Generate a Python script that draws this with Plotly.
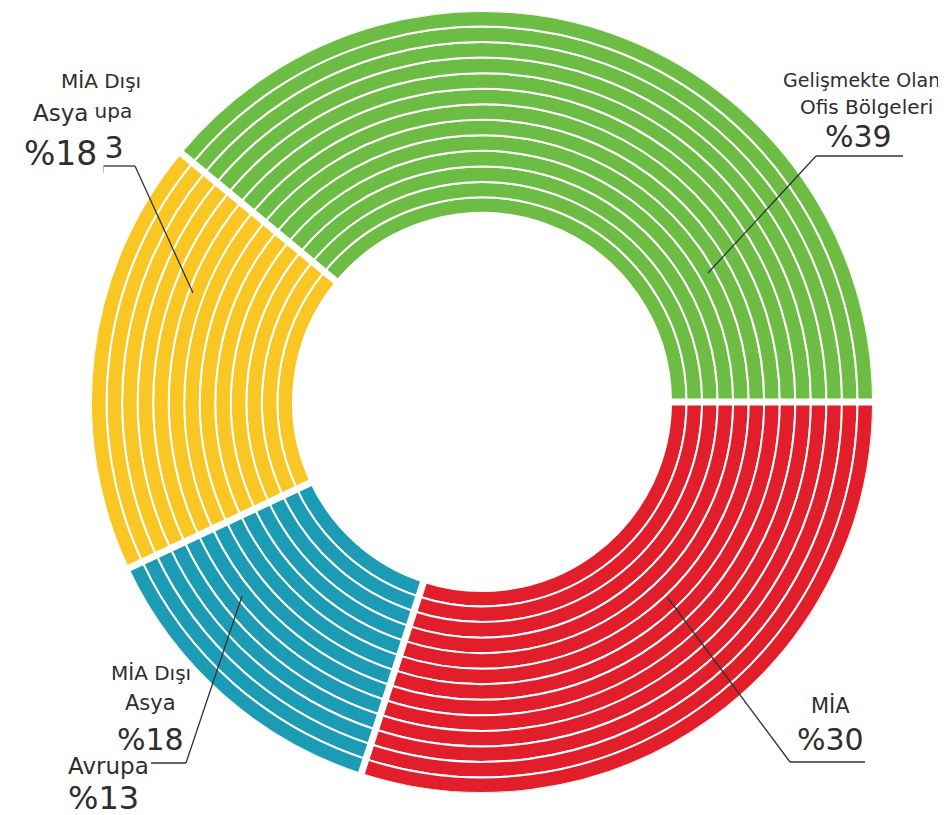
import plotly.graph_objects as go

# ---- data ----
segments = ["Gelişmekte Olan Ofis Bölgeleri", "MİA Dışı Asya", "Avrupa", "MİA"]
shares = [39, 18, 13, 30]
colors = ["#6dbd45", "#f9c623", "#1b9bb4", "#e21e2a"]
n_rings = 13

W, H = 946, 815
CX, CY = 474, 394
R_OUT, R_IN = 391, 189

def px(x):
    return x / W

def py(y):
    return 1 - y / H

# angles (counterclockwise from east)
total = sum(shares)
widths = [s / total * 360 for s in shares]
starts = []
acc = 0
for w in widths:
    starts.append(acc)
    acc += w
centers = [s + w / 2 for s, w in zip(starts, widths)]

fig = go.Figure()
thick = (R_OUT - R_IN) / n_rings
for i in range(n_rings):
    fig.add_trace(go.Barpolar(
        r=[thick] * len(shares),
        base=[R_IN + i * thick] * len(shares),
        theta=centers,
        width=widths,
        marker=dict(color=colors, line=dict(color="white", width=2)),
        hoverinfo="skip",
        showlegend=False,
    ))

# white gaps between segments
for b in starts:
    fig.add_trace(go.Scatterpolar(
        r=[R_IN - 4, R_OUT + 4], theta=[b, b], mode="lines",
        line=dict(color="white", width=7), hoverinfo="skip", showlegend=False,
    ))

fig.update_layout(
    width=W, height=H,
    margin=dict(l=0, r=0, t=0, b=0),
    paper_bgcolor="white", plot_bgcolor="white",
    polar=dict(
        domain=dict(x=[px(CX - R_OUT), px(CX + R_OUT)], y=[py(CY + R_OUT), py(CY - R_OUT)]),
        bgcolor="white",
        radialaxis=dict(visible=False, range=[0, R_OUT], showgrid=False),
        angularaxis=dict(visible=False, rotation=0, direction="counterclockwise", showgrid=False),
        bargap=0,
    ),
    barmode="overlay",
    showlegend=False,
)

FONT = "DejaVu Sans"
TXT = "#2e2e2e"

def label(text, x, y, size, bg=None, pad=0):
    fig.add_annotation(
        text=text, x=px(x), y=py(y), xref="paper", yref="paper",
        showarrow=False, xanchor="center", yanchor="middle",
        font=dict(family=FONT, size=size, color=TXT),
        bgcolor=bg if bg else "rgba(0,0,0,0)", borderpad=pad,
    )

def line(pts):
    for (x0, y0), (x1, y1) in zip(pts[:-1], pts[1:]):
        fig.add_shape(type="line", xref="paper", yref="paper",
                      x0=px(x0), y0=py(y0), x1=px(x1), y1=py(y1),
                      line=dict(color="#333333", width=1.3))

# Green label
label("Gelişmekte Olan", 853, 72, 19)
label("Ofis Bölgeleri", 858, 99, 20)
label("%39", 850, 129, 30)
line([(895, 148), (808, 148), (700, 265)])

# Red label
label("MİA", 822, 697, 21)
label("%30", 822, 731, 30)
line([(857, 754), (782, 754), (660, 590)])

# Bottom-left labels
label("MİA Dışı", 143, 665, 20)
label("Asya", 142, 695, 21)
label("%18", 142, 731, 30)
line([(143, 755), (178, 755), (234, 588)])
label("Avrupa", 100, 758, 23, bg="white")
label("%13", 95, 790, 32)

# Top-left labels (overlapping)
label("MİA Dışı", 93, 73, 20)
label("Avrupa", 89, 103, 20)
label("%13", 82, 139, 30)
label("Asya", 52, 105, 23, bg="white", pad=6)
label("%18", 52, 146, 33, bg="white", pad=6)
line([(95, 165), (95, 158), (127, 158), (185, 285)])

fig.write_html("out.html")
